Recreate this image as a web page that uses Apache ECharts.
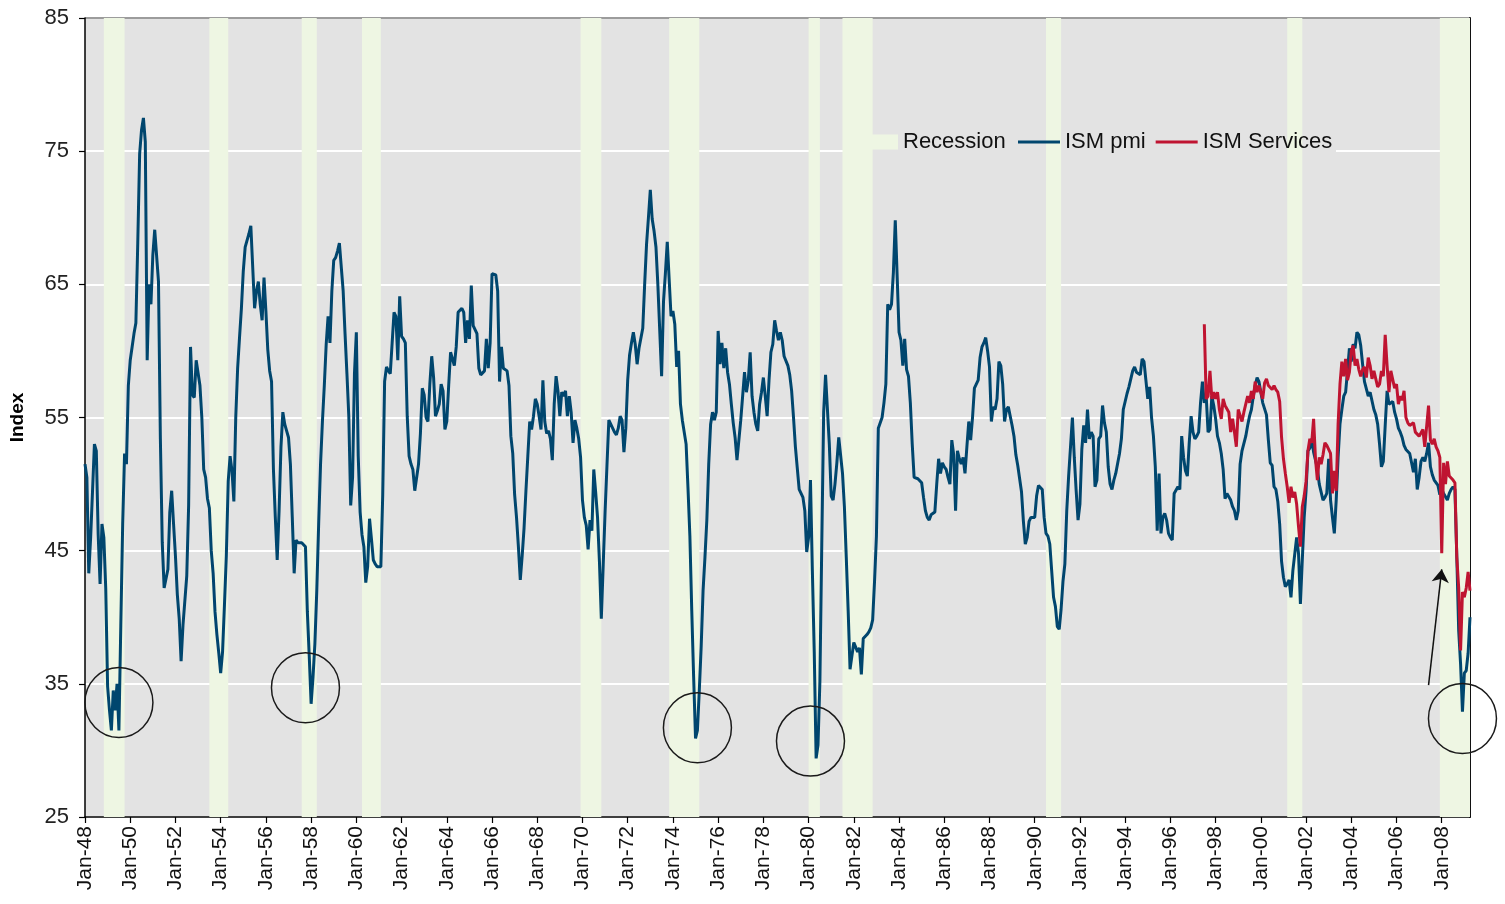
<!DOCTYPE html>
<html>
<head>
<meta charset="utf-8">
<title>ISM pmi and ISM Services</title>
<script src="https://cdn.jsdelivr.net/npm/echarts@6/dist/echarts.min.js"></script>
<style>
  html, body { margin: 0; padding: 0; background: #fff; }
  #chart { width: 1505px; height: 904px; }
</style>
</head>
<body>
<div id="chart"></div>
<script>
// monthly ISM manufacturing index, Jan-48 onwards
var pmi1940s = [
  51.5, 50.5, 43.3, 46.0, 49.5, 53.0, 52.5, 46.2, 42.5, 47.0, 46.0, 42.2,
  34.8, 33.0, 31.5, 34.5, 33.0, 35.0, 31.5, 39.4, 47.0, 52.3, 51.5, 57.4
];
var pmi1950s = [
  59.3, 60.3, 61.3, 62.1, 68.1, 74.8, 76.6, 77.5, 75.7, 59.3, 65.0, 63.5,
  67.2, 69.1, 69.1, 65.2, 53.4, 45.6, 42.2, 42.2, 43.6, 47.9, 49.5, 47.0,
  44.6, 41.7, 39.9, 36.7, 39.4, 39.4, 43.1, 48.4, 60.3, 56.7, 56.5, 59.3,
  59.3, 57.4, 55.0, 51.1, 50.5, 48.9, 48.2, 45.0, 43.3, 40.4, 38.7, 37.3,
  35.8, 37.4, 40.9, 44.6, 50.2, 52.1, 51.0, 48.7, 55.0, 58.7, 61.0, 63.2,
  66.0, 67.8, 68.3, 68.8, 69.4, 69.4, 63.2, 64.5, 65.2, 63.5, 62.3, 65.5,
  63.0, 60.1, 58.5, 57.7, 51.1, 47.5, 44.3, 48.0, 52.8, 55.4, 54.5, 54.0,
  53.5, 51.5, 47.5, 43.3, 45.8, 45.6, 45.6, 45.6, 45.6, 45.3, 40.4, 37.1,
  33.5, 35.5, 38.0, 42.0, 47.0, 51.5, 54.7, 57.4, 60.5, 62.6, 60.6, 64.5,
  66.8, 67.0, 67.5, 68.1, 68.1, 64.5, 61.3, 58.3, 55.1, 48.4, 50.5, 58.3
];
var pmi1960s = [
  61.4, 52.1, 47.9, 46.2, 45.3, 42.6, 43.8, 47.4, 45.9, 44.3, 44.0, 43.8,
  43.8, 43.8, 49.2, 57.7, 58.8, 58.5, 58.3, 60.6, 62.9, 62.6, 59.3, 64.1,
  61.1, 60.9, 60.6, 55.1, 52.1, 51.5, 51.1, 49.5, 50.5, 51.5, 53.8, 57.2,
  56.7, 55.0, 54.7, 57.5, 59.6, 58.0, 55.1, 55.5, 56.0, 57.5, 57.0, 54.1,
  54.7, 57.4, 59.9, 59.8, 58.9, 60.3, 62.9, 63.0, 63.2, 62.9, 60.6, 62.3,
  60.9, 64.9, 61.9, 61.8, 61.3, 58.7, 58.2, 58.3, 58.5, 60.9, 58.7, 60.6,
  65.8, 65.8, 65.7, 64.5, 57.7, 60.3, 58.7, 58.6, 58.5, 57.4, 53.6, 52.3,
  49.2, 47.5, 45.3, 42.8, 44.6, 46.7, 49.5, 52.1, 54.7, 54.1, 55.1, 56.4,
  56.0, 55.1, 54.1, 57.8, 54.7, 53.8, 54.0, 53.4, 51.8, 56.0, 58.1, 57.0,
  55.1, 56.9, 56.6, 57.0, 55.1, 56.6, 55.4, 53.1, 54.8, 54.2, 53.4, 52.0
];
var pmi1970s = [
  48.8, 47.5, 46.9, 45.1, 47.3, 46.5, 51.1, 49.4, 47.5, 44.2, 39.9, 43.9,
  47.9, 51.4, 54.8, 54.5, 54.2, 53.9, 53.7, 54.2, 55.1, 54.8, 52.4, 54.2,
  57.8, 59.7, 60.6, 61.4, 60.5, 59.0, 60.2, 60.2, 61.7, 65.0, 68.0, 70.0,
  72.1, 69.9, 69.0, 67.8, 65.0, 65.0, 58.1, 63.7, 65.8, 68.2, 68.1, 62.6,
  63.0, 62.0, 58.8, 60.0, 56.0, 54.8, 54.8, 53.0, 49.7, 46.1, 40.5, 35.5,
  30.9, 31.5, 34.5, 37.8, 42.0, 44.5, 47.3, 51.5, 54.5, 55.4, 54.8, 55.4,
  61.5, 59.0, 60.6, 58.7, 60.2, 58.4, 57.5, 56.0, 54.6, 53.5, 51.8, 51.8,
  54.8, 56.6, 58.4, 56.9, 57.8, 59.9, 56.6, 55.4, 54.5, 54.0, 56.0, 56.9,
  58.0, 56.6, 55.1, 57.8, 59.9, 60.5, 62.3, 61.5, 60.8, 61.4, 60.8, 59.6,
  59.5, 58.9, 58.2, 57.0, 55.0, 52.8, 51.2, 49.6, 49.5, 49.0, 48.0, 44.9
];
var pmi1980s = [
  46.0, 50.3, 43.5, 37.4, 29.4, 30.4, 35.2, 45.5, 55.4, 58.2, 58.2, 53.0,
  49.1, 48.8, 50.0, 51.6, 53.5, 53.5, 50.8, 48.3, 44.5, 40.5, 36.1, 37.1,
  38.1, 38.1, 37.4, 37.7, 35.7, 38.4, 38.5, 38.7, 38.9, 39.2, 39.8, 42.7,
  46.1, 54.2, 54.3, 55.0, 56.1, 57.5, 63.5, 63.1, 63.5, 65.9, 69.8, 69.8,
  61.4, 60.8, 58.9, 60.9, 58.6, 58.1, 56.1, 53.0, 50.5, 50.6, 50.4, 50.3,
  50.1, 49.0, 48.0, 47.5, 47.3, 47.7, 47.7, 47.9, 50.0, 51.9, 50.8, 51.6,
  51.3, 51.1, 50.5, 50.0, 53.3, 52.2, 48.0, 52.5, 51.9, 51.5, 52.0, 50.8,
  52.8, 54.7, 53.3, 55.0, 57.2, 57.5, 57.8, 59.5, 60.3, 60.6, 61.0, 60.0,
  58.8, 54.7, 55.8, 55.6, 56.4, 59.2, 58.9, 57.5, 54.7, 55.6, 55.8, 55.8,
  54.4, 53.6, 52.2, 51.4, 51.4, 49.4, 47.2, 45.5, 46.0, 47.2, 47.5, 47.5
];
var pmi1990s = [
  47.5, 49.1, 49.9, 49.9, 49.6, 47.5, 46.3, 46.1, 45.5, 43.5, 41.5, 40.8,
  39.3, 39.1, 40.6, 42.7, 44.0, 48.0, 50.6, 52.8, 55.0, 52.0, 49.5, 47.3,
  48.5, 52.6, 54.4, 53.1, 55.6, 53.4, 53.9, 53.6, 49.8, 50.3, 53.4, 53.6,
  55.9, 54.6, 53.9, 51.3, 50.0, 49.6, 50.3, 50.8, 50.8, 52.3, 53.4, 55.6,
  56.2, 56.8, 57.3, 57.9, 58.5, 58.8, 58.4, 58.5, 58.2, 59.4, 59.2, 57.8,
  56.4, 57.3, 55.0, 53.6, 51.3, 46.5, 50.8, 46.3, 47.5, 47.8, 47.3, 46.3,
  46.0, 45.8, 49.3, 49.3, 49.8, 49.6, 53.6, 52.0, 51.0, 50.6, 53.1, 55.1,
  53.9, 53.4, 53.6, 53.9, 56.1, 57.7, 56.1, 56.6, 53.9, 54.1, 56.6, 55.9,
  54.9, 53.6, 53.1, 52.3, 51.1, 48.9, 49.3, 49.3, 48.8, 48.3, 48.0, 47.3,
  48.0, 51.5, 52.5, 52.6, 53.6, 54.4, 55.1, 55.6, 56.6, 57.4, 58.0, 57.7
];
var pmi2000s = [
  56.9, 56.1, 56.0, 55.2, 53.3, 51.6, 51.4, 49.8, 49.6, 48.7, 47.0, 44.2,
  43.0, 42.3, 42.5, 42.8, 41.5, 43.5, 43.5, 46.0, 44.8, 41.0, 44.3, 47.5,
  49.5, 52.5, 52.7, 53.4, 52.4, 52.5, 51.2, 50.0, 49.4, 48.8, 49.0, 49.3,
  51.9, 48.8, 47.5, 46.3, 48.8, 52.0, 54.5, 55.6, 56.6, 56.9, 58.5, 60.2,
  59.2, 60.5, 60.2, 61.4, 61.2, 60.4, 59.0, 57.7, 57.6, 56.6, 56.9, 56.8,
  55.6, 55.2, 54.5, 53.0, 51.3, 51.7, 54.4, 57.0, 56.0, 55.9, 56.2, 55.4,
  54.9, 54.2, 53.9, 53.5, 52.9, 52.6, 52.6, 52.3, 51.6, 50.9, 51.9, 49.6,
  50.5, 51.7, 52.0, 51.7, 52.3, 53.1, 51.3, 50.7, 50.3, 50.2, 49.9, 49.2,
  49.6, 49.3, 49.4, 48.8, 49.3, 49.6, 49.8, 49.6, 44.5, 39.0, 36.5, 32.9,
  35.8, 36.0, 37.3, 40.0
];

// ISM services (non-manufacturing), starts Jul-97
var servicesStart = 'Jul-97';
var services = [
  62.0, 56.4, 56.6, 58.5, 56.4, 56.9,
  56.4, 56.9, 55.6, 54.9, 56.4, 55.9, 55.9, 55.4, 53.9, 54.9, 53.9, 52.8,
  55.6, 55.6, 54.7, 55.4, 55.4, 56.6, 56.1, 57.0, 56.4, 57.7, 56.9, 57.4,
  57.4, 56.4, 57.6, 57.9, 57.4, 57.4, 57.1, 57.4, 57.1, 56.9, 56.2, 53.5,
  51.9, 50.8, 49.8, 48.6, 49.8, 49.0, 49.4, 48.5, 46.8, 45.3, 48.3, 49.1,
  50.2, 52.5, 53.4, 53.1, 54.9, 51.9, 50.3, 52.0, 51.5, 52.2, 53.1, 52.9,
  53.0, 52.3, 49.3, 51.0, 49.5, 54.5, 57.5, 59.2, 58.1, 59.4, 57.8, 58.4,
  60.0, 60.4, 58.9, 59.4, 58.6, 58.1, 58.6, 58.8, 58.0, 59.5, 58.9, 57.9,
  58.5, 57.9, 57.3, 57.5, 58.5, 58.1, 61.2, 58.9, 56.9, 58.5, 58.5, 57.2,
  57.5, 56.0, 56.6, 56.3, 57.0, 55.0, 54.6, 54.4, 54.3, 54.6, 53.9, 54.0,
  53.6, 53.5, 54.1, 52.8, 52.9, 55.9, 53.3, 53.0, 53.4, 52.8, 52.5, 52.0,
  44.8, 51.6, 50.0, 51.7, 50.6, 50.5, 50.3, 50.1, 44.5, 42.2, 37.5, 41.9,
  41.5, 42.2, 43.4, 42.0
];

// NBER recessions, first and last month
var recessions = [
  ['Nov-48', 'Oct-49'], ['Jul-53', 'May-54'], ['Aug-57', 'Apr-58'],
  ['Apr-60', 'Feb-61'], ['Dec-69', 'Nov-70'], ['Nov-73', 'Mar-75'],
  ['Jan-80', 'Jul-80'], ['Jul-81', 'Nov-82'], ['Jul-90', 'Mar-91'],
  ['Mar-01', 'Nov-01'], ['Dec-07', 'Apr-09']
];

// troughs ringed on the chart [month, index]
var circled = [
  ['Jul-49', 33.6], ['Oct-57', 34.7], ['Feb-75', 31.7], ['Feb-80', 30.7], ['Dec-08', 32.4]
];
// arrow pointing at the Jan-08 services drop
var arrowFrom = ['Jun-07', 34.9];
var arrowTo = ['Jan-08', 43.6];

var yTicks = { min: 25, max: 85, step: 10 };

var monthNames = ['Jan','Feb','Mar','Apr','May','Jun','Jul','Aug','Sep','Oct','Nov','Dec'];
var categories = [];
for (var yr = 1948; yr <= 2009; yr++) {
  for (var mo = 0; mo < 12; mo++) {
    if (yr === 2009 && mo > 3) break;
    categories.push(monthNames[mo] + '-' + String(yr % 100).padStart(2, '0'));
  }
}

var pmi = [].concat(pmi1940s, pmi1950s, pmi1960s, pmi1970s, pmi1980s, pmi1990s, pmi2000s);
var svcOffset = categories.indexOf(servicesStart);
var servicesData = categories.map(function (c, i) {
  var j = i - svcOffset;
  return (j >= 0 && j < services.length) ? services[j] : null;
});

var plotGray = '#e3e3e3';
var bandGreen = '#eef6e3';
var blue = '#00466e';
var red = '#bf1431';

var myChart = echarts.init(document.getElementById('chart'));

var option = {
  animation: false,
  backgroundColor: '#ffffff',
  textStyle: { fontFamily: '"Liberation Sans", Arial, sans-serif' },
  grid: {
    left: 84, right: 35, top: 18, bottom: 87,
    show: true, backgroundColor: plotGray, borderWidth: 0
  },
  legend: [{
    data: [{ name: 'Recession', icon: 'rect' }],
    left: 866, top: 125,
    itemWidth: 26, itemHeight: 15,
    padding: [6, 6],
    textStyle: { fontSize: 22, color: '#111' }
  }, {
    data: [{ name: 'ISM pmi', icon: 'rect' }, { name: 'ISM Services', icon: 'rect' }],
    left: 1012, top: 125,
    itemWidth: 42, itemHeight: 3, itemGap: 10,
    padding: [6, 6],
    textStyle: { fontSize: 22, color: '#111' }
  }],
  // hides the 75 gridline behind the legend text
  graphic: [{
    type: 'rect', silent: true, z: 1,
    shape: { x: 868, y: 146, width: 468, height: 10 },
    style: { fill: plotGray }
  }],
  xAxis: {
    type: 'category',
    data: categories,
    boundaryGap: false,
    axisLine: { lineStyle: { color: '#000', width: 1.5 } },
    axisTick: { interval: 23, length: 6, lineStyle: { color: '#000', width: 1.2 } },
    axisLabel: { interval: 23, rotate: 90, margin: 9, fontSize: 21, color: '#111' },
    splitLine: { show: false }
  },
  yAxis: [{
    type: 'value',
    min: yTicks.min, max: yTicks.max, interval: yTicks.step,
    name: 'Index',
    nameLocation: 'middle',
    nameGap: 58,
    nameTextStyle: { fontWeight: 'bold', fontSize: 19, color: '#000' },
    axisLine: { show: true, lineStyle: { color: '#000', width: 1.5 } },
    axisTick: { show: true, length: 6, lineStyle: { color: '#000', width: 1.2 } },
    axisLabel: { fontSize: 22, color: '#222', margin: 16 },
    splitLine: {
      lineStyle: { color: ['#fff', '#fff', '#fff', '#fff', '#fff', '#fff', '#9c9c9c'], width: 2 }
    }
  }, {
    type: 'value',
    position: 'right',
    min: yTicks.min, max: yTicks.max, interval: yTicks.step,
    axisLine: { show: true, lineStyle: { color: '#111', width: 2 } },
    axisTick: { show: false },
    axisLabel: { show: false },
    splitLine: { show: false }
  }],
  series: [{
    name: 'Recession',
    type: 'bar',
    data: [],
    itemStyle: { color: bandGreen }
  }, {
    name: 'ISM pmi',
    type: 'line',
    data: pmi,
    symbol: 'none',
    z: 3,
    lineStyle: { color: blue, width: 3 },
    itemStyle: { color: blue },
    markArea: {
      silent: true,
      itemStyle: { color: bandGreen },
      data: recessions.map(function (r) {
        return [{ xAxis: categories.indexOf(r[0]) }, { xAxis: categories.indexOf(r[1]) }];
      })
    },
    markPoint: {
      silent: true,
      symbol: 'circle',
      symbolSize: [68, 70],
      itemStyle: { color: 'rgba(0,0,0,0)', borderColor: '#1a1a1a', borderWidth: 1.5 },
      label: { show: false },
      data: circled.map(function (c) { return { coord: [c[0], c[1]] }; })
    },
    markLine: {
      silent: true,
      symbol: ['none', 'arrow'],
      symbolSize: 13,
      label: { show: false },
      lineStyle: { color: '#111', width: 1.5, type: 'solid' },
      data: [[{ coord: arrowFrom }, { coord: arrowTo }]]
    }
  }, {
    name: 'ISM Services',
    type: 'line',
    data: servicesData,
    symbol: 'none',
    z: 4,
    lineStyle: { color: red, width: 3 },
    itemStyle: { color: red }
  }]
};

myChart.setOption(option);
</script>
</body>
</html>
